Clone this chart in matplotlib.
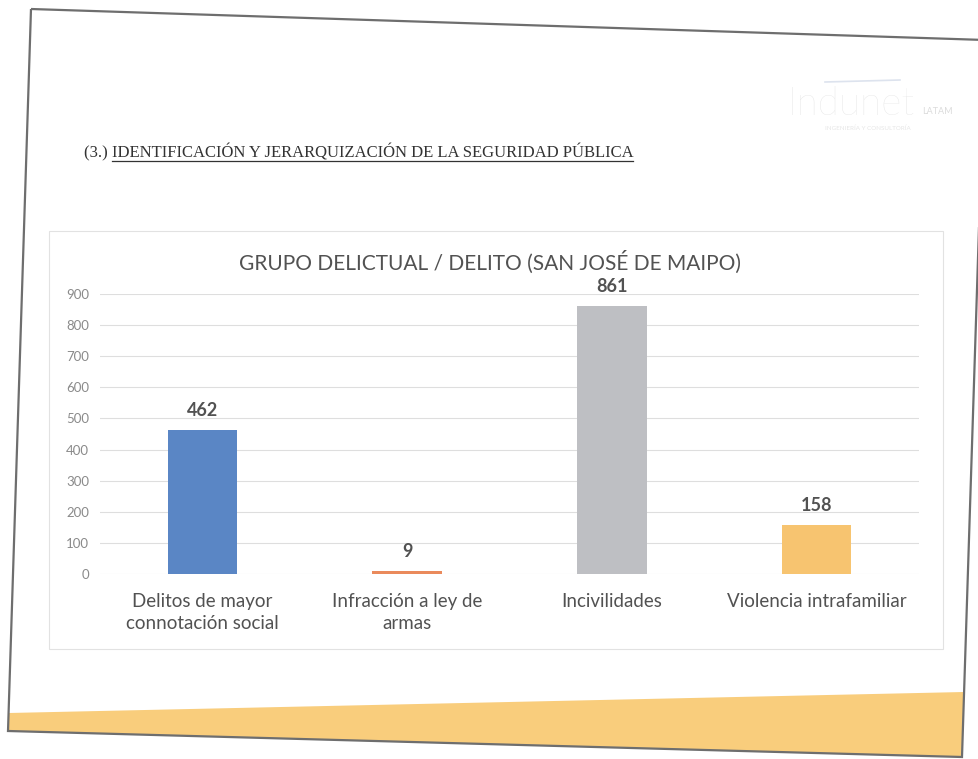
import matplotlib
matplotlib.use("Agg")
import matplotlib.pyplot as plt
from matplotlib.patches import Polygon, Rectangle

# data
categories = ["Delitos de mayor\nconnotación social", "Infracción a ley de\narmas",
              "Incivilidades", "Violencia intrafamiliar"]
values = [462, 9, 861, 158]
bar_colors = ["#5a86c5", "#ea8a5c", "#bebfc3", "#f7c470"]
y_ticks = [0, 100, 200, 300, 400, 500, 600, 700, 800, 900]

header_num = "(3.) "
header_text = "IDENTIFICACIÓN Y JERARQUIZACIÓN DE LA SEGURIDAD PÚBLICA"
chart_title = "GRUPO DELICTUAL / DELITO (SAN JOSÉ DE MAIPO)"

W, H = 979, 759
TXT = "#525252"


def fx(x):
    return x / W


def fy(y):
    return 1 - y / H


def pts(coords):
    return [(fx(x), fy(y)) for x, y in coords]


def plot_chart():
    fig = plt.figure(figsize=(W / 100, H / 100), dpi=100)
    fig.patch.set_facecolor("white")

    # yellow band at the bottom of the slide + page border (scan is slightly tilted)
    band = Polygon(pts([(8.6, 713), (964, 692), (962, 757), (8, 731)]),
                   closed=True, transform=fig.transFigure,
                   facecolor="#f9cd7c", edgecolor="none")
    fig.patches.append(band)
    page = Polygon(pts([(31, 9), (985, 40), (962, 757), (8, 731)]),
                   closed=True, transform=fig.transFigure,
                   facecolor="none", edgecolor="#6e6e6e", lw=1.6)
    fig.patches.append(page)

    # faint logo
    fig.text(fx(787), fy(104), "Indunet", fontsize=28, family="Lato",
             fontweight="light", color="#e4e4e4", va="center", ha="left")
    fig.text(fx(922), fy(112), "LATAM", fontsize=6.5, family="Lato",
             color="#dcdcdc", va="center", ha="left")
    fig.text(fx(825), fy(128), "INGENIERÍA Y CONSULTORÍA", fontsize=4.5,
             family="Lato", color="#e6e6e6", va="center", ha="left")
    fig.add_artist(plt.Line2D([fx(825), fx(900)], [fy(82), fy(80)],
                              transform=fig.transFigure, color="#dde3ee", lw=1.2))

    # header with underline
    t1 = fig.text(fx(84), fy(157), header_num, fontsize=12,
                  family="Liberation Serif", color="#333333", va="baseline")
    fig.canvas.draw()
    r = fig.canvas.get_renderer()
    bb = t1.get_window_extent(r)
    t2 = fig.text(bb.x1 / W, fy(157), header_text, fontsize=12,
                  family="Liberation Serif", color="#333333", va="baseline")
    bb2 = t2.get_window_extent(r)
    fig.add_artist(plt.Line2D([bb2.x0 / W, bb2.x1 / W],
                              [fy(161), fy(161)],
                              transform=fig.transFigure, color="#333333", lw=0.9))

    # chart area border
    fig.patches.append(Rectangle((fx(49), fy(649)), fx(943) - fx(49),
                                 fy(231) - fy(649), transform=fig.transFigure,
                                 facecolor="none", edgecolor="#e2e2e2", lw=0.8))

    fig.text(fx(490), fy(262), chart_title, fontsize=15, family="Lato",
             color=TXT, ha="center", va="center")

    ax = fig.add_axes([fx(100), fy(574), fx(919) - fx(100), fy(294) - fy(574)])
    x = list(range(len(categories)))
    bars = ax.bar(x, values, width=0.34, color=bar_colors, zorder=3)
    for b, v in zip(bars, values):
        ax.annotate(str(v), (b.get_x() + b.get_width() / 2, v),
                    xytext=(0, 8), textcoords="offset points",
                    ha="center", va="bottom", fontsize=13,
                    fontweight="bold", family="Lato", color=TXT)

    ax.set_xlim(-0.5, len(categories) - 0.5)
    ax.set_ylim(0, 900)
    ax.set_yticks(y_ticks)
    ax.yaxis.grid(True, color="#dedede", lw=0.8, zorder=0)
    ax.set_axisbelow(True)
    for s in ax.spines.values():
        s.set_visible(False)
    ax.tick_params(axis="both", length=0)
    ax.tick_params(axis="y", labelsize=9.5, labelcolor="#8a8a8a", pad=8)
    for lbl in ax.get_yticklabels():
        lbl.set_family("Lato")
    ax.set_xticks(x)
    ax.set_xticklabels(categories, fontsize=13.5, family="Lato",
                       color=TXT, linespacing=1.35)
    ax.tick_params(axis="x", pad=14)
    ax.set_facecolor("none")

    fig.savefig("out.png", dpi=100)


if __name__ == "__main__":
    plot_chart()
